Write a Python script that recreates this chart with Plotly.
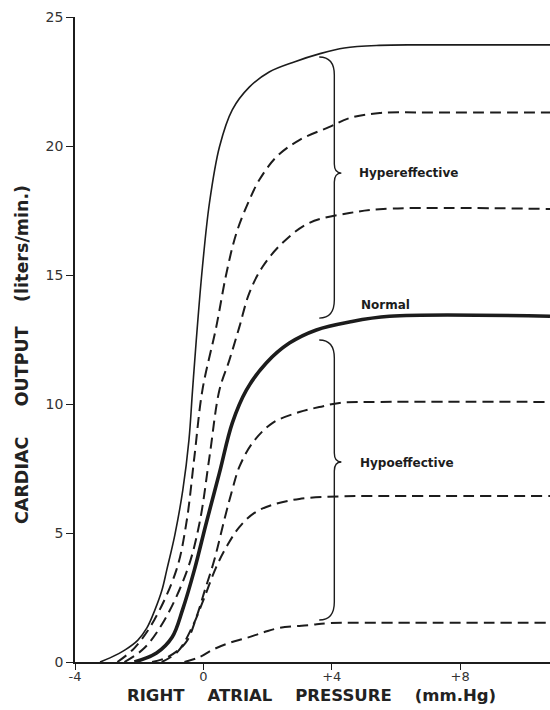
import plotly.graph_objects as go

# ---- data ----
hyper_max_x = [-3.22, -2.91, -2.44, -2.04, -1.76, -1.51, -1.29, -1.14, -0.89, -0.64, -0.45, -0.34, -0.22, -0.03, 0.19, 0.50, 0.90, 1.43, 2.05, 2.83, 3.61, 4.39, 5.48, 6.73, 10.8]
hyper_max_y = [0, 0.16, 0.47, 0.85, 1.32, 2.02, 2.79, 3.57, 4.92, 6.67, 8.6, 10.5, 12.5, 15.3, 17.8, 19.96, 21.4, 22.28, 22.87, 23.26, 23.57, 23.8, 23.9, 23.92, 23.92]

hyper_2_x = [-2.68, -2.15, -1.53, -0.84, -0.53, -0.28, -0.03, 0.40, 0.72, 1.03, 1.43, 1.74, 2.27, 2.99, 3.93, 4.55, 5.5, 7.0, 10.8]
hyper_2_y = [0, 0.54, 1.63, 3.57, 5.39, 7.95, 10.54, 12.98, 15.08, 16.63, 17.9, 18.68, 19.57, 20.23, 20.74, 21.08, 21.28, 21.3, 21.3]

hyper_1_x = [-2.46, -1.84, -1.21, -0.50, -0.12, 0.19, 0.50, 0.81, 1.12, 1.43, 1.84, 2.46, 3.30, 4.55, 5.6, 10.8]
hyper_1_y = [0, 0.54, 1.63, 3.57, 5.39, 7.95, 10.54, 11.7, 12.98, 14.3, 15.31, 16.24, 17.02, 17.4, 17.56, 17.56]

normal_x = [-2.15, -1.46, -0.97, -0.65, -0.28, 0.09, 0.50, 0.90, 1.34, 1.96, 2.68, 3.52, 4.55, 5.8, 10.8]
normal_y = [0, 0.35, 0.97, 2.02, 3.57, 5.39, 7.33, 9.26, 10.54, 11.59, 12.36, 12.87, 13.18, 13.4, 13.4]

hypo_1_x = [-1.6, -1.1, -0.55, -0.2, 0.05, 0.34, 0.65, 0.90, 1.12, 1.53, 2.15, 2.99, 3.61, 4.24, 5.5, 10.8]
hypo_1_y = [0, 0.2, 0.75, 1.8, 2.8, 3.95, 5.5, 6.67, 7.56, 8.49, 9.26, 9.69, 9.88, 10.04, 10.08, 10.08]

hypo_2_x = [-1.3, -0.8, -0.35, 0.0, 0.4, 0.75, 1.12, 1.59, 2.15, 2.99, 4.24, 5.5, 10.8]
hypo_2_y = [0, 0.4, 1.35, 2.4, 3.68, 4.53, 5.23, 5.78, 6.09, 6.32, 6.42, 6.43, 6.43]

hypo_3_x = [-0.59, -0.12, 0.28, 0.81, 1.34, 1.90, 2.37, 3.30, 3.93, 5.0, 10.8]
hypo_3_y = [0, 0.19, 0.47, 0.74, 0.93, 1.16, 1.32, 1.43, 1.51, 1.52, 1.52]

x_tick_vals = [-4, 0, 4, 8]
x_tick_text = ["-4", "0", "+4", "+8"]
y_tick_vals = [0, 5, 10, 15, 20, 25]
y_tick_text = ["0", "5", "10", "15", "20", "25"]

labels = ["Hypereffective", "Normal", "Hypoeffective"]
x_title_words = ["RIGHT", "ATRIAL", "PRESSURE", "(mm.Hg)"]
y_title_words = ["CARDIAC", "OUTPUT", "(liters/min.)"]

# ---- figure ----
INK = "#1c1c1c"
DASH = "11px,6px"
NB = "\u00a0"

series = [
    (hyper_max_x, hyper_max_y, 1.6, "solid"),
    (hyper_2_x, hyper_2_y, 2.0, DASH),
    (hyper_1_x, hyper_1_y, 2.0, DASH),
    (normal_x, normal_y, 3.6, "solid"),
    (hypo_1_x, hypo_1_y, 2.0, DASH),
    (hypo_2_x, hypo_2_y, 2.0, DASH),
    (hypo_3_x, hypo_3_y, 2.0, DASH),
]

fig = go.Figure()
for xs, ys, w, d in series:
    fig.add_trace(go.Scatter(
        x=xs, y=ys, mode="lines",
        line=dict(color=INK, width=w, dash=d, shape="spline", smoothing=1.0),
        hoverinfo="skip", showlegend=False,
    ))


def brace(xe, xv, xc, ytop, ycusp, ybot, r=0.7, c=0.35):
    return (f"M {xe},{ytop} Q {xv},{ytop} {xv},{ytop - r} "
            f"L {xv},{ycusp + c} Q {xv},{ycusp} {xc},{ycusp} "
            f"Q {xv},{ycusp} {xv},{ycusp - c} "
            f"L {xv},{ybot + r} Q {xv},{ybot} {xe},{ybot}")


shapes = [
    dict(type="path", xref="x", yref="y",
         path=brace(3.61, 4.08, 4.3, 23.45, 18.95, 13.33),
         line=dict(color=INK, width=1.4)),
    dict(type="path", xref="x", yref="y",
         path=brace(3.61, 4.08, 4.3, 12.48, 7.75, 1.63),
         line=dict(color=INK, width=1.4)),
]

label_font = dict(family="DejaVu Sans", size=12, color=INK)
ytitle_font = dict(family="DejaVu Sans", size=17.5, color="#222")
xtitle_font = dict(family="DejaVu Sans", size=16.5, color="#222")
annotations = [
    dict(x=4.79, y=18.95, text="<b>" + labels[0] + "</b>", showarrow=False,
         xanchor="left", yanchor="middle", font=label_font),
    dict(x=4.85, y=13.85, text="<b>" + labels[1] + "</b>", showarrow=False,
         xanchor="left", yanchor="middle", font=label_font),
    dict(x=4.82, y=7.72, text="<b>" + labels[2] + "</b>", showarrow=False,
         xanchor="left", yanchor="middle", font=label_font),
    dict(xref="paper", yref="paper", x=-0.1116, y=0.4775, textangle=-90,
         text="<b>" + y_title_words[0] + NB * 5 + y_title_words[1] + NB * 4 + y_title_words[2] + "</b>",
         showarrow=False, xanchor="center", yanchor="middle", font=ytitle_font),
    dict(xref="paper", yref="paper", x=0.497, y=-0.0512,
         text="<b>" + (NB * 4).join(x_title_words) + "</b>",
         showarrow=False, xanchor="center", yanchor="middle", font=xtitle_font),
]

tick_font = dict(family="DejaVu Sans", size=14, color="#333")
fig.update_layout(
    width=550, height=710,
    margin=dict(l=75, r=0, t=17, b=48),
    paper_bgcolor="white", plot_bgcolor="white",
    shapes=shapes, annotations=annotations,
    xaxis=dict(range=[-4, 10.8], tickvals=x_tick_vals, ticktext=x_tick_text,
               showgrid=False, zeroline=False, showline=True, linecolor=INK,
               linewidth=1.6, ticks="outside", ticklen=6, tickwidth=1.4,
               tickcolor=INK, tickfont=dict(family="DejaVu Sans", size=13, color="#333"),
               ticklabelstandoff=-4),
    yaxis=dict(range=[0, 25], tickvals=y_tick_vals, ticktext=y_tick_text,
               showgrid=False, zeroline=False, showline=True, linecolor=INK,
               linewidth=1.6, ticks="outside", ticklen=7, tickwidth=1.4,
               tickcolor=INK, tickfont=tick_font),
)

fig.write_html("out.html")
